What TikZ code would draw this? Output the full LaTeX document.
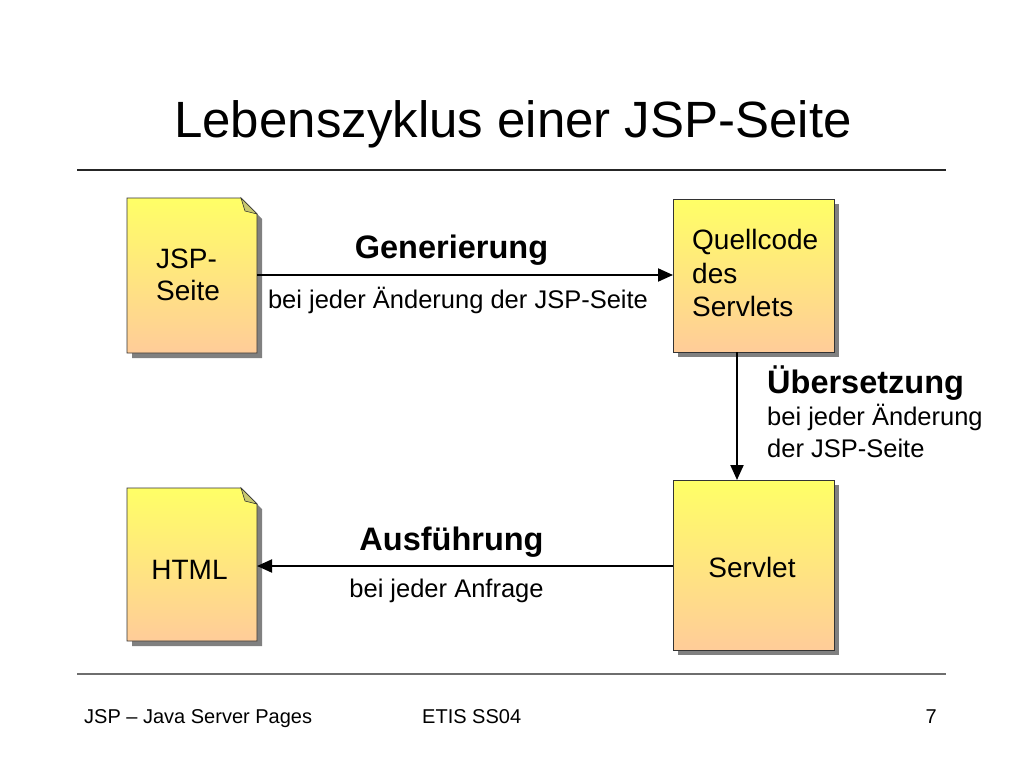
\documentclass[tikz,border=0pt]{standalone}
\usepackage{fontspec}
\setmainfont{Liberation Sans}
\usetikzlibrary{arrows.meta,calc}
\definecolor{topyel}{HTML}{FFFF66}
\definecolor{botpeach}{HTML}{FFCC99}
\definecolor{foldcol}{HTML}{C8C870}
\definecolor{edgecol}{HTML}{333333}
\definecolor{shadowcol}{HTML}{808080}
\definecolor{rulegray}{HTML}{6E6E6E}
\begin{document}
\begin{tikzpicture}[x=1pt,y=-1pt,
  anchorbox/.style={inner sep=0pt,outer sep=0pt,minimum width=#1},
  boxtext/.style={font=\fontsize{28}{33}\selectfont,inner sep=0pt,anchor=base west},
  boldlabel/.style={font=\bfseries\fontsize{32.5}{38}\selectfont,inner sep=0pt,anchor=base},
  sublabel/.style={font=\fontsize{25.5}{31}\selectfont,inner sep=0pt,anchor=base},
  foottext/.style={font=\fontsize{20}{24}\selectfont,inner sep=0pt,anchor=base west},
  flowarrow/.style={line width=2pt,-{Triangle[length=15pt,width=13pt]}},
  boxedge/.style={draw=edgecol,line width=0.9pt},
  shadowed/.style={fill=shadowcol,transform canvas={shift={(5pt,-5pt)}}},
]
\useasboundingbox (0,0) rectangle (1024,768);
\fill[white] (0,0) rectangle (1024,768);

% title and rules
\node[font=\fontsize{51}{60}\selectfont,inner sep=0pt,anchor=base] (title) at (513,137) {Lebenszyklus einer JSP-Seite};
\coordinate (rtl) at (77,170); \coordinate (rtr) at (946,170);
\draw[line width=1.3pt,color=black!85] (rtl) -- (rtr);
\coordinate (rbl) at (77,674); \coordinate (rbr) at (946,674);
\draw[line width=1.5pt,color=rulegray] (rbl) -- (rbr);

% box anchors (invisible nodes)
\node[anchorbox=130pt,minimum height=155pt] (jsp) at (192,275.5) {};
\node[anchorbox=161pt,minimum height=153pt] (quell) at (753.5,275.5) {};
\node[anchorbox=161pt,minimum height=170pt] (servlet) at (753.5,565) {};
\node[anchorbox=130pt,minimum height=153pt] (html) at (192,564.5) {};

% document shapes (JSP, HTML)
\foreach \n in {jsp,html}{
  \fill[shadowed] (\n.north west) -- ($(\n.north east)+(-16,0)$) -- ($(\n.north east)+(0,16)$) -- (\n.south east) -- (\n.south west) -- cycle;
  \shade[top color=topyel,bottom color=botpeach] (\n.north west) -- ($(\n.north east)+(-16,0)$) -- ($(\n.north east)+(0,16)$) -- (\n.south east) -- (\n.south west) -- cycle;
  \draw[boxedge] (\n.north west) -- ($(\n.north east)+(-16,0)$) -- ($(\n.north east)+(0,16)$) -- (\n.south east) -- (\n.south west) -- cycle;
  \filldraw[fill=foldcol,draw=edgecol,line width=0.6pt] ($(\n.north east)+(-16,0)$) -- ($(\n.north east)+(0,16)$) -- ($(\n.north east)+(-12,13)$) -- cycle;
}
% plain rectangles (Quellcode, Servlet)
\foreach \n in {quell,servlet}{
  \fill[shadowed] (\n.north west) rectangle (\n.south east);
  \shade[top color=topyel,bottom color=botpeach] (\n.north west) rectangle (\n.south east);
  \draw[boxedge] (\n.north west) rectangle (\n.south east);
}

% box texts
\node[boxtext] (jspA) at (156,268) {JSP-};
\node[boxtext] (jspB) at (156,300) {Seite};
\node[boxtext] (qA) at (692,249) {Quellcode};
\node[boxtext] (qB) at (692,283) {des};
\node[boxtext] (qC) at (692,316) {Servlets};
\node[boxtext,anchor=base] (svt) at (752,577) {Servlet};
\node[boxtext,anchor=base] (htm) at (189.5,579) {HTML};

% connectors
\draw[flowarrow] (jsp.east |- 0,275) -- (quell.west |- 0,275);
\draw[flowarrow] (quell.south -| 737,0) -- (servlet.north -| 737,0);
\draw[flowarrow] (servlet.west |- 0,566) -- (html.east |- 0,566);

% labels
\node[boldlabel] (gen) at (451.5,258) {Generierung};
\node[sublabel] (genS) at (458,308) {bei jeder Änderung der JSP-Seite};
\node[boldlabel,anchor=base west] (ueb) at (767,393) {Übersetzung};
\node[sublabel,anchor=base west] (uebS1) at (767,425) {bei jeder Änderung};
\node[sublabel,anchor=base west] (uebS2) at (767,457) {der JSP-Seite};
\node[boldlabel] (aus) at (451.5,550) {Ausführung};
\node[sublabel] (ausS) at (446.5,597) {bei jeder Anfrage};

% footer
\node[foottext] (f1) at (84,723) {JSP – Java Server Pages};
\node[foottext] (f2) at (422,723) {ETIS SS04};
\node[foottext,anchor=base east] (f3) at (937,723) {7};
\end{tikzpicture}
\end{document}
